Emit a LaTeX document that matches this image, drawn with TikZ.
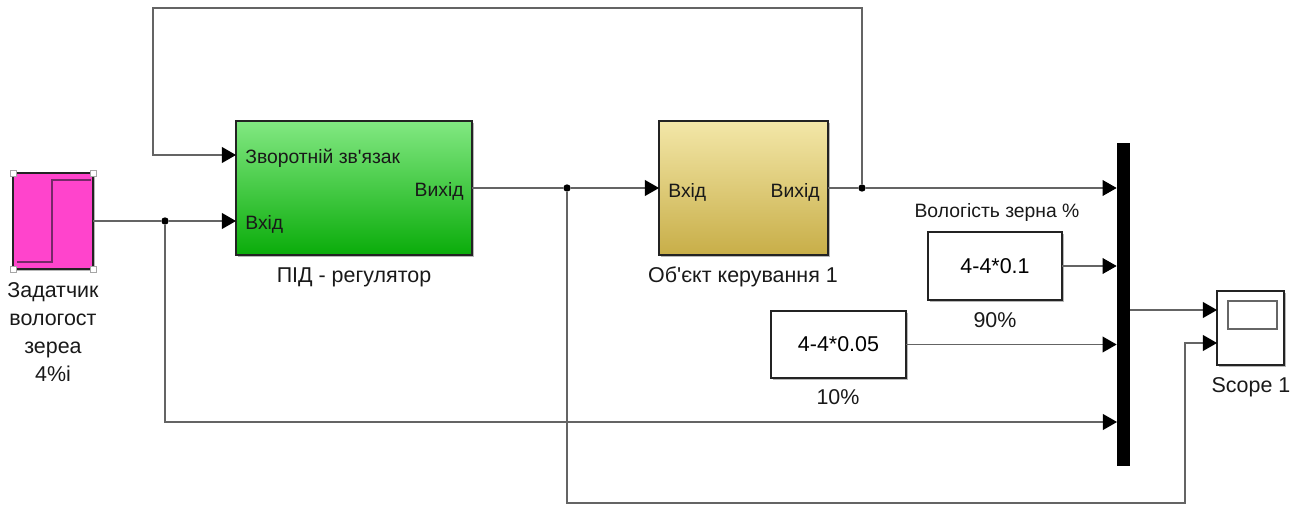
\documentclass[tikz,border=0pt]{standalone}
\usepackage{fontspec}
\setmainfont{Liberation Sans}[Ligatures=TeXOff]
\usetikzlibrary{arrows.meta, positioning, shadows}
\definecolor{WireGray}{RGB}{100, 100, 100}
\definecolor{BlkLine}{RGB}{35, 35, 35}
\definecolor{StepPink}{RGB}{255, 68, 204}
\definecolor{StepLine}{RGB}{120, 40, 105}
\definecolor{PidTop}{RGB}{130, 232, 130}
\definecolor{PidBot}{RGB}{10, 172, 10}
\definecolor{PlantTop}{RGB}{243, 231, 168}
\definecolor{PlantBot}{RGB}{200, 174, 72}
\begin{document}
\begin{tikzpicture}[x=0.02cm, y=-0.02cm,
  blk/.style={draw=BlkLine, line width=0.8pt, inner sep=0pt, outer sep=0pt, font=\fontsize{12.2}{14}\selectfont,
    drop shadow={shadow xshift=1.1pt, shadow yshift=-1.1pt, fill=black!40, opacity=0.7}},
  port/.style={font=\fontsize{11}{13}\selectfont, text=black!90, inner sep=0pt},
  lab/.style={font=\fontsize{12.2}{16}\selectfont, text=black!90, inner sep=0pt, anchor=base},
  sig/.style={-{Triangle[length=8pt, width=9pt, color=black]}, WireGray, line width=0.6pt},
  jn/.style={circle, fill=black, inner sep=0pt, minimum size=4.2pt},
  hdl/.style={draw=black!35, fill=white, inner sep=0pt, minimum size=0.12cm}]
\useasboundingbox (0,0) rectangle (1301,510);
% blocks
\node[blk, fill=StepPink, minimum width=1.6cm, minimum height=1.92cm] (step) at (53,221) {};
\draw[StepLine, line width=0.7pt] (17,262) -- (52,262) -- (52,180) -- (91,180);
\foreach \c [count=\i] in {north west, north east, south west, south east} \node[hdl] (hdl\i) at (step.\c) {};
\node[blk, top color=PidTop, bottom color=PidBot, minimum width=4.72cm, minimum height=2.68cm] (pid) at (354,188) {};
\node[blk, top color=PlantTop, bottom color=PlantBot, minimum width=3.38cm, minimum height=2.68cm] (plant) at (743.5,188) {};
\node[blk, fill=white, minimum width=2.68cm, minimum height=1.36cm] (c90) at (995,266) {4-4*0.1};
\node[blk, fill=white, minimum width=2.7cm, minimum height=1.34cm] (c10) at (838.5,344.5) {4-4*0.05};
\node[fill=black, inner sep=0pt, minimum width=0.26cm, minimum height=6.46cm] (mux) at (1123.5,304.5) {};
\node[blk, fill=white, minimum width=1.34cm, minimum height=1.48cm] (scope) at (1250.5,328) {};
\node[draw=black!60, line width=0.6pt, fill=white, inner sep=0pt, minimum width=0.98cm, minimum height=0.56cm] (screen) at (1252.5,315) {};
% port texts
\node[port, anchor=base west] (pidfbt) at (245,163) {Зворотній зв'язак};
\node[port, anchor=base west] (pidint) at (245,229) {Вхід};
\node[port, anchor=base east] (pidoutt) at (464,196) {Вихід};
\node[port, anchor=base west] (plint) at (668,197) {Вхід};
\node[port, anchor=base east] (ploutt) at (820,197) {Вихід};
% labels
\node[lab, align=center, anchor=north] (steplab) at (53,282) {Задатчик\\вологост\\зереа\\4\%i};
\node[lab] (pidlab) at (354,282) {ПІД - регулятор};
\node[lab] (pllab) at (743,282) {Об'єкт керування 1};
\node[lab] (c90lab) at (995,327) {90\%};
\node[lab] (c10lab) at (838,404) {10\%};
\node[lab] (sclab) at (1251,392) {Scope 1};
\node[lab, font=\fontsize{11}{13}\selectfont] (outlab) at (997,217) {Вологість зерна \%};
% ports and junctions
\coordinate (pidfb) at (236,155); \coordinate (pidin) at (236,221);
\coordinate (fbtop) at (153,8); \coordinate (scbot) at (1185,503);
\coordinate (min4) at (1117,422);
\coordinate (scin1) at (1217,310); \coordinate (scin2) at (1217,343);
\node[jn] (j1) at (165,221) {}; \node[jn] (j2) at (567,188) {}; \node[jn] (j3) at (862,188) {};
% wires
\draw[sig] (step.east) -- (j1) -- (pidin); \draw[sig] (j1) |- (min4);
\draw[sig] (pid.east) -- (j2) -- (plant.west); \draw[sig] (j2) |- (scbot) |- (scin2);
\draw[sig] (plant.east) -- (j3) -- (j3 -| mux.west); \draw[sig] (j3) |- (fbtop) |- (pidfb);
\draw[sig] (c90.east) -- (c90.east -| mux.west); \draw[sig] (c10.east) -- (c10.east -| mux.west);
\draw[sig] (mux.east |- scin1) -- (scin1);
\end{tikzpicture}
\end{document}
